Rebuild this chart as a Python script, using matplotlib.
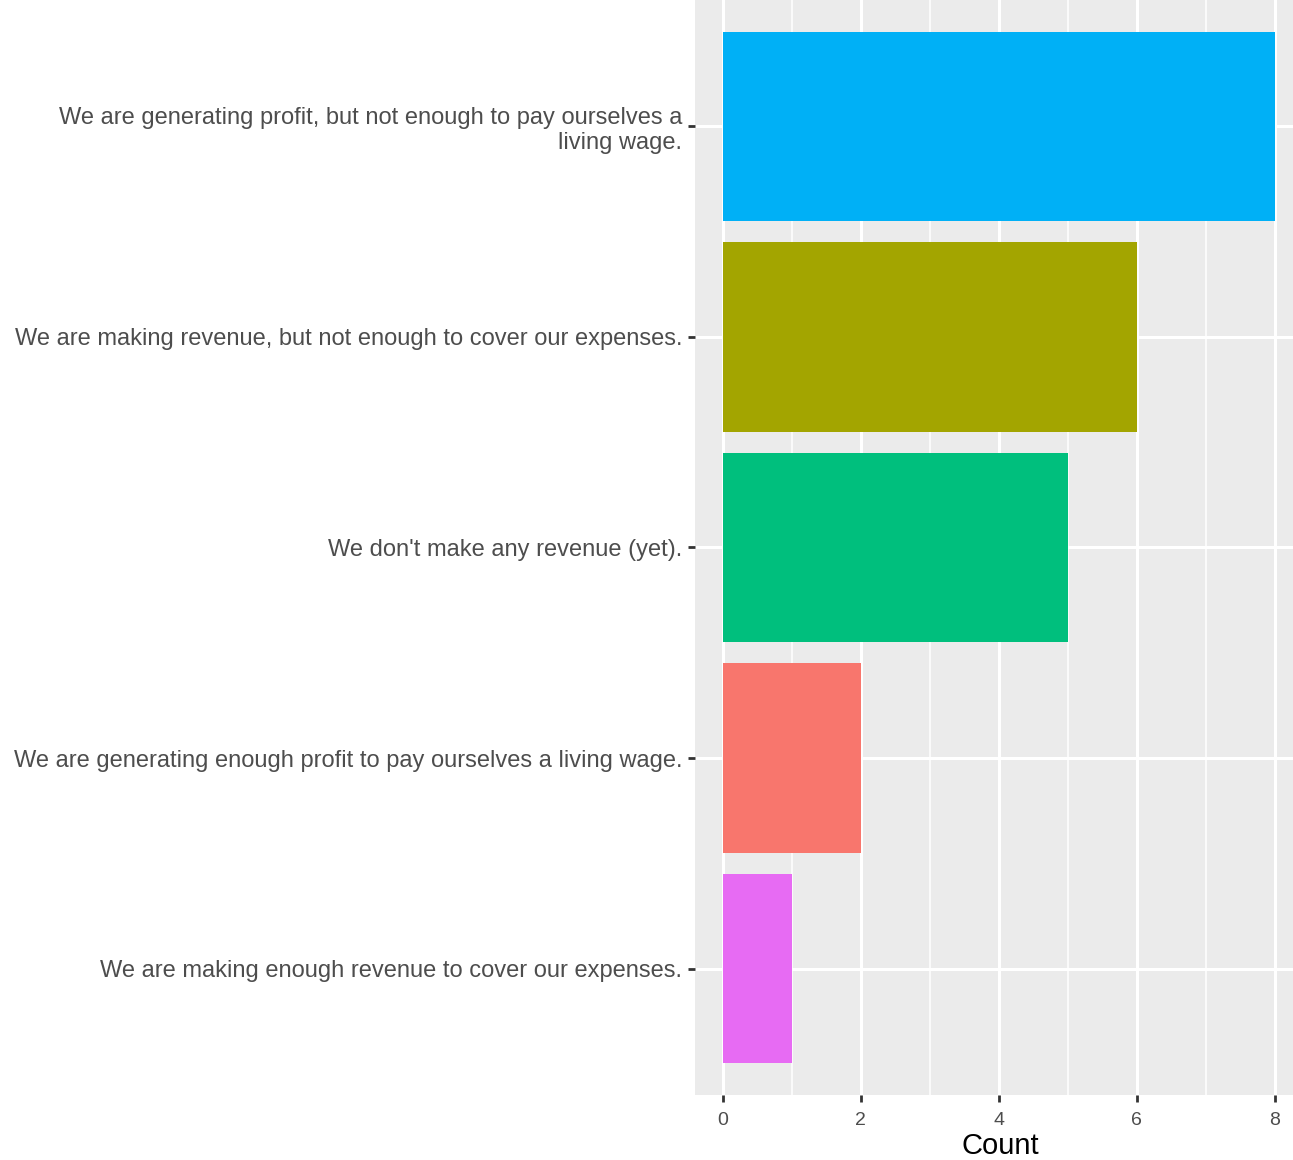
import matplotlib
matplotlib.use("Agg")
import matplotlib.pyplot as plt
import numpy as np

plt.rcParams['font.family'] = ['Liberation Sans', 'DejaVu Sans']

# data (bottom to top)
labels = [
    "We are making enough revenue to cover our expenses.",
    "We are generating enough profit to pay ourselves a living wage.",
    "We don't make any revenue (yet).",
    "We are making revenue, but not enough to cover our expenses.",
    "We are generating profit, but not enough to pay ourselves a\nliving wage.",
]
counts = [1, 2, 5, 6, 8]
colors = ["#E76BF3", "#F8766D", "#00BF7D", "#A3A500", "#00B0F6"]

fig = plt.figure(figsize=(12.93, 11.6), dpi=100)
ax = fig.add_axes([695 / 1293, 65 / 1160, 1 - 695 / 1293, 1 - 65 / 1160])
ax.set_facecolor("#EBEBEB")

y = np.arange(1, len(counts) + 1)
ax.barh(y, counts, height=0.9, color=colors, zorder=3)

ax.set_xlim(-0.4, (1293 - 723) / 69)
ax.set_ylim(0.4, 5.6)
ax.set_xticks([0, 2, 4, 6, 8])
ax.set_xticks([1, 3, 5, 7], minor=True)
ax.set_yticks(y)
ax.set_yticklabels(labels, ha="right", multialignment="right", linespacing=1.2)

ax.grid(which="major", color="white", linewidth=2.2, zorder=0)
ax.grid(which="minor", axis="x", color="white", linewidth=1.1, zorder=0)
ax.tick_params(axis="both", which="major", length=5, width=2, color="#333333",
               labelcolor="#4D4D4D", labelsize=17, pad=4)
ax.tick_params(axis="x", labelsize=14, pad=7)
ax.tick_params(which="minor", length=0)
for s in ax.spines.values():
    s.set_visible(False)

ax.set_xlabel("Count", fontsize=21, color="black", labelpad=3)
ax.xaxis.set_label_coords(0.51, -0.034)

fig.savefig("out.png", dpi=100)
